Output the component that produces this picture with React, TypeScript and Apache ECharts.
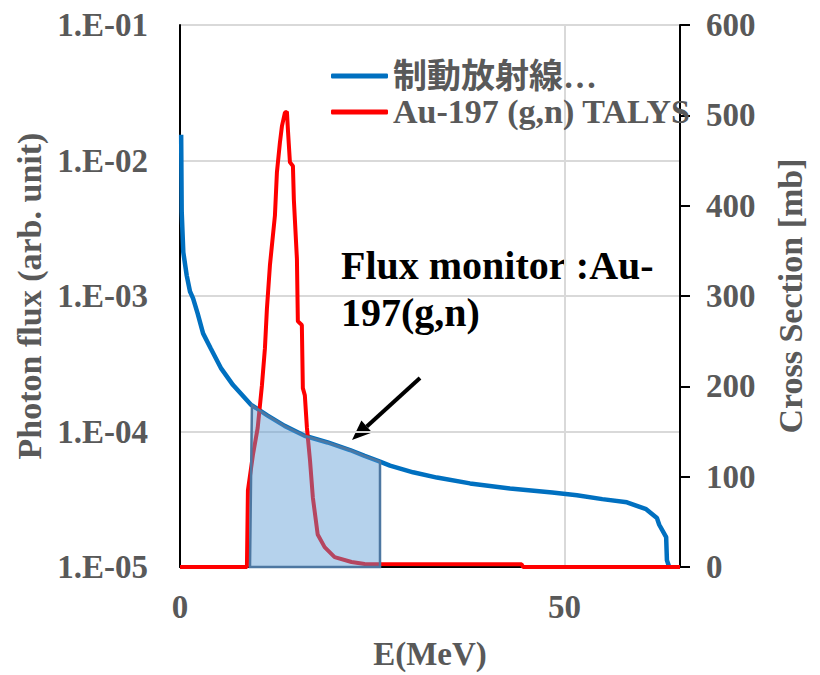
import React, { useEffect, useRef } from 'react';
import * as echarts from 'echarts';

// Bremsstrahlung photon flux (left, log axis)
const blueE = [0.15, 0.22, 0.43, 0.87, 1.3, 1.7, 2.3, 3.0, 4.0, 5.3, 6.9, 9.2, 11.4, 13.6, 16.2, 19.2, 22.1, 24.0, 26.0, 27.3, 30.3, 33.4, 37.7, 42.9, 48.4, 51.6, 54.9, 58.1, 60.6, 62.0, 62.3, 63.2, 63.3, 63.6];
const blueV = [1.55e-2, 4.2e-3, 2.1e-3, 1.42e-3, 1.08e-3, 9.6e-4, 7.4e-4, 5.3e-4, 4.1e-4, 2.95e-4, 2.2e-4, 1.58e-4, 1.31e-4, 1.1e-4, 9.3e-5, 8.3e-5, 7.3e-5, 6.6e-5, 6.0e-5, 5.6e-5, 5.0e-5, 4.57e-5, 4.14e-5, 3.8e-5, 3.55e-5, 3.39e-5, 3.17e-5, 3.0e-5, 2.67e-5, 2.3e-5, 2.05e-5, 1.66e-5, 1.12e-5, 1e-5];

// Au-197 (g,n) TALYS cross section (right axis, mb)
const redE = [0, 8.6, 8.7, 8.83, 9.48, 10.1, 10.65, 11.04, 11.3, 11.69, 12.34, 12.6, 12.99, 13.25, 13.64, 13.9, 14.03, 14.29, 14.68, 14.8, 15.2, 15.32, 15.84, 15.97, 16.23, 16.5, 16.9, 17.27, 17.9, 18.8, 20.1, 22.3, 24.0, 44.4, 44.6, 65];
const redV = [0, 0, 0, 85, 124, 154, 201, 242, 286, 334, 389, 437, 470, 488, 503, 504, 484, 448, 444, 407, 341, 272, 268, 198, 190, 154, 118, 77, 36, 22, 11, 5.5, 3.3, 3, 0, 0];

const leftTickLabels = ['1.E-05', '1.E-04', '1.E-03', '1.E-02', '1.E-01'];
const leftRange = [1e-5, 1e-1];
const rightRange = [0, 600];
const rightInterval = 100;
const xRange = [0, 65];
const xInterval = 50;
const shadeLeftBottom = 9.1;
const shadeLeftTop = 9.35;
const shadeRight = 26.0;
const legendNames = ['制動放射線…', 'Au-197 (g,n) TALYS'];
const xName = 'E(MeV)';
const leftName = 'Photon flux (arb. unit)';
const rightName = 'Cross Section [mb]';
const annotation = 'Flux monitor :Au-\n197(g,n)';

function blueAt(e: number): number {
  for (let i = 0; i < blueE.length - 1; i++) {
    if (e >= blueE[i] && e <= blueE[i + 1]) {
      const t = (e - blueE[i]) / (blueE[i + 1] - blueE[i]);
      const la = Math.log10(blueV[i]);
      const lb = Math.log10(blueV[i + 1]);
      return Math.pow(10, la + t * (lb - la));
    }
  }
  return blueV[blueV.length - 1];
}

const SERIF = "'Liberation Serif','Times New Roman','Noto Sans CJK JP',serif";
const GRAY = '#595959';

export default function App() {
  const ref = useRef<HTMLDivElement>(null);
  useEffect(() => {
    document.body.style.margin = '0';
    const chart = echarts.init(ref.current!, undefined, { renderer: 'svg' });
    const shadePts: number[][] = [[shadeLeftBottom, leftRange[0]], [shadeLeftTop, blueAt(shadeLeftTop)]];
    blueE.forEach((e, i) => {
      if (e > shadeLeftTop && e < shadeRight) shadePts.push([e, blueV[i]]);
    });
    shadePts.push([shadeRight, blueAt(shadeRight)]);
    shadePts.push([shadeRight, leftRange[0]]);

    // arrow geometry (annotation)
    const tail = [420, 378];
    const tip = [352, 440];
    const dx = tip[0] - tail[0], dy = tip[1] - tail[1];
    const len = Math.hypot(dx, dy);
    const ux = dx / len, uy = dy / len;
    const hl = 20, hw = 8;
    const bx = tip[0] - ux * hl, by = tip[1] - uy * hl;
    const px = -uy, py = ux;

    chart.setOption({
      animation: false,
      grid: { left: 180, right: 140, top: 25, bottom: 100 },
      legend: {
        data: legendNames,
        orient: 'vertical',
        left: 326,
        top: 54,
        itemGap: 2,
        itemWidth: 57,
        itemHeight: 5,
        icon: 'roundRect',
        textStyle: { fontFamily: SERIF, fontWeight: 'bold', fontSize: 34, color: GRAY },
      },
      xAxis: {
        type: 'value',
        min: xRange[0],
        max: xRange[1],
        interval: xInterval,
        name: xName,
        nameLocation: 'middle',
        nameGap: 70,
        nameTextStyle: { fontFamily: SERIF, fontWeight: 'bold', fontSize: 33, color: GRAY },
        axisLine: { show: true, lineStyle: { color: '#000', width: 2 } },
        axisTick: { show: false },
        axisLabel: { showMaxLabel: false, margin: 23, fontFamily: SERIF, fontWeight: 'bold', fontSize: 33, color: GRAY },
        splitLine: { show: true, lineStyle: { color: '#d9d9d9', width: 2 } },
      },
      yAxis: [
        {
          type: 'log',
          logBase: 10,
          min: leftRange[0],
          max: leftRange[1],
          name: leftName,
          nameLocation: 'middle',
          nameGap: 115,
          nameTextStyle: { fontFamily: SERIF, fontWeight: 'bold', fontSize: 34, color: GRAY },
          axisLine: { show: true, lineStyle: { color: '#000', width: 2 } },
          axisTick: { show: false },
          axisLabel: {
            margin: 32,
            fontFamily: SERIF,
            fontWeight: 'bold',
            fontSize: 33,
            color: GRAY,
            formatter: (v: number) => leftTickLabels[Math.round(Math.log10(v)) + 5] ?? '',
          },
          splitLine: { show: true, lineStyle: { color: '#d9d9d9', width: 2 } },
        },
        {
          type: 'value',
          min: rightRange[0],
          max: rightRange[1],
          interval: rightInterval,
          position: 'right',
          name: rightName,
          nameLocation: 'middle',
          nameGap: 93,
          nameTextStyle: { fontFamily: SERIF, fontWeight: 'bold', fontSize: 34, color: GRAY },
          axisLine: { show: true, lineStyle: { color: '#000', width: 2 } },
          axisTick: { show: true, length: 10, lineStyle: { color: '#000', width: 2 } },
          axisLabel: { margin: 26, fontFamily: SERIF, fontWeight: 'bold', fontSize: 33, color: GRAY },
          splitLine: { show: false },
        },
      ],
      series: [
        {
          name: legendNames[0],
          type: 'line',
          yAxisIndex: 0,
          z: 2,
          data: blueE.map((e, i) => [e, blueV[i]]),
          symbol: 'none',
          lineStyle: { color: '#0070c0', width: 4.5 },
          itemStyle: { color: '#0070c0' },
        },
        {
          name: legendNames[1],
          type: 'line',
          yAxisIndex: 1,
          z: 3,
          data: redE.map((e, i) => [e, redV[i]]),
          symbol: 'none',
          lineStyle: { color: '#ff0000', width: 4 },
          itemStyle: { color: '#ff0000' },
        },
        {
          type: 'custom',
          yAxisIndex: 0,
          z: 10,
          silent: true,
          data: [[shadeLeftTop, blueAt(shadeLeftTop)]],
          encode: { x: 0, y: 1 },
          renderItem: (_p: any, api: any) => ({
            type: 'polygon',
            z2: 10,
            shape: { points: shadePts.map((p) => api.coord(p)) },
            style: { fill: 'rgba(91,155,213,0.45)', stroke: '#4d77a1', lineWidth: 2.5 },
          }),
        },
      ],
      graphic: [
        {
          type: 'text',
          left: 341,
          top: 242,
          style: { text: annotation, font: `bold 40px ${SERIF}`, fill: '#000', lineHeight: 47 },
        },
        {
          type: 'line',
          shape: { x1: tail[0], y1: tail[1], x2: bx, y2: by },
          style: { stroke: '#000', lineWidth: 4 },
        },
        {
          type: 'polygon',
          shape: { points: [tip, [bx + px * hw, by + py * hw], [bx - px * hw, by - py * hw]] },
          style: { fill: '#000' },
        },
      ],
    });
    return () => chart.dispose();
  }, []);
  return <div ref={ref} style={{ width: 820, height: 675 }} />;
}
